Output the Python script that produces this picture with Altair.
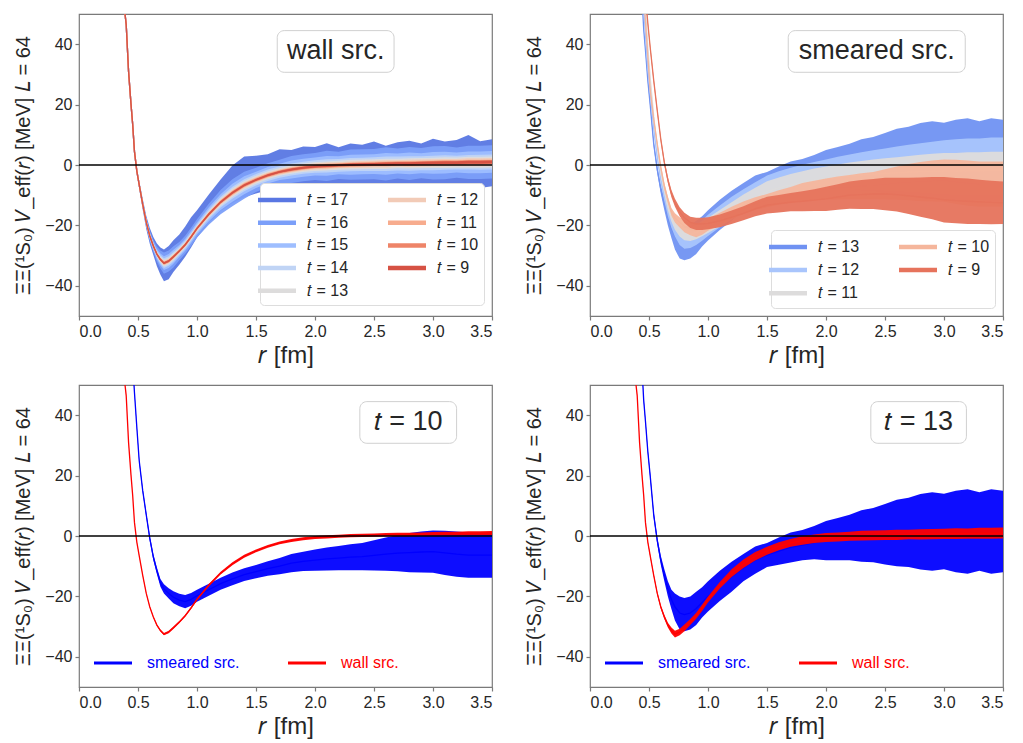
import altair as alt
import pandas as pd

FONT = "Liberation Sans"
IT_T = "\U0001D461"   # italic t
IT_R = "\U0001D45F"   # italic r
IT_V = "\U0001D449"   # italic V
IT_L = "\U0001D43F"   # italic L

# shared r grid (fm)
R = [0.39, 0.40, 0.42, 0.44, 0.455, 0.47, 0.49, 0.51, 0.54, 0.57,
     0.60, 0.63, 0.66, 0.69, 0.72, 0.76, 0.80, 0.85, 0.90, 0.95,
     1.0, 1.1, 1.2, 1.3, 1.4, 1.5, 1.6, 1.7, 1.8, 1.9,
     2.0, 2.1, 2.2, 2.3, 2.4, 2.5, 2.6, 2.7, 2.8, 2.9,
     3.0, 3.1, 3.2, 3.3, 3.4, 3.5]

# wall source potential (central curve)
WALL_V = [50, 46.5, 31, 20.5, 13.4, 4.5, -2, -6.5, -13, -19,
          -23.5, -26.8, -29.5, -31.3, -32.5, -31.8, -30.4, -28.5, -26.4, -23.8,
          -21, -16.3, -12.3, -9.2, -6.7, -4.9, -3.4, -2.3, -1.5, -0.9,
          -0.5, -0.3, -0.1, 0.1, 0.2, 0.3, 0.4, 0.5, 0.5, 0.6,
          0.7, 0.8, 0.8, 0.9, 0.9, 1.0]

# wall source spreads (half widths) for t = 17 ... 9
W17_UP = [0.3, 0.4, 0.5, 0.6, 0.8, 1.0, 1.2, 1.4, 1.8, 2.2,
          2.6, 3.0, 3.5, 4.0, 4.5, 5.0, 5.5, 5.5, 6.0, 6.5,
          6.0, 6.5, 7.5, 9.0, 9.5, 8.0, 7.0, 7.5, 6.5, 7.0,
          6.5, 7.5, 6.0, 7.0, 6.5, 7.5, 6.0, 7.0, 7.5, 6.5,
          8.0, 7.0, 7.5, 9.0, 7.0, 7.5]
W17_DN = [0.3, 0.4, 0.5, 0.6, 0.8, 1.0, 1.2, 1.4, 1.8, 2.2,
          2.6, 3.0, 4.0, 5.0, 6.0, 6.0, 5.0, 4.5, 4.0, 3.5,
          3.0, 3.0, 3.0, 3.5, 4.0, 4.5, 5.0, 5.5, 6.0, 6.5,
          7.0, 7.5, 7.0, 8.0, 7.5, 8.0, 7.5, 8.5, 8.0, 7.5,
          8.5, 8.0, 8.5, 8.0, 8.5, 8.0]
W16_HW = [0.2, 0.3, 0.4, 0.5, 0.6, 0.7, 0.8, 1.0, 1.2, 1.5,
          1.8, 2.0, 2.5, 3.0, 3.5, 3.5, 3.5, 3.0, 3.0, 3.0,
          3.0, 3.5, 4.0, 4.5, 4.5, 4.0, 4.0, 4.0, 4.5, 4.5,
          4.5, 5.0, 4.5, 5.0, 5.0, 5.0, 5.5, 5.0, 5.5, 5.0,
          5.5, 5.5, 5.0, 5.5, 5.5, 5.5]
W15_HW = [0.15, 0.2, 0.3, 0.35, 0.4, 0.5, 0.6, 0.7, 0.8, 1.0,
          1.2, 1.4, 1.7, 2.0, 2.3, 2.3, 2.3, 2.0, 2.0, 2.0,
          2.0, 2.3, 2.6, 3.0, 3.0, 2.7, 2.7, 2.7, 3.0, 3.0,
          3.0, 3.3, 3.0, 3.3, 3.3, 3.3, 3.6, 3.3, 3.6, 3.3,
          3.6, 3.6, 3.3, 3.6, 3.6, 3.6]
W14_HW = [0.1, 0.15, 0.2, 0.25, 0.3, 0.35, 0.4, 0.5, 0.6, 0.7,
          0.8, 1.0, 1.2, 1.4, 1.6, 1.6, 1.6, 1.4, 1.4, 1.4,
          1.4, 1.6, 1.8, 2.0, 2.0, 1.9, 1.9, 1.9, 2.0, 2.0,
          2.1, 2.2, 2.1, 2.2, 2.2, 2.3, 2.4, 2.3, 2.4, 2.3,
          2.4, 2.4, 2.3, 2.4, 2.5, 2.5]
W13_HW = [0.1, 0.1, 0.15, 0.2, 0.2, 0.25, 0.3, 0.35, 0.4, 0.5,
          0.6, 0.7, 0.8, 1.0, 1.1, 1.1, 1.1, 1.0, 1.0, 1.0,
          1.0, 1.1, 1.3, 1.4, 1.4, 1.3, 1.3, 1.3, 1.4, 1.4,
          1.5, 1.5, 1.5, 1.6, 1.6, 1.6, 1.7, 1.6, 1.7, 1.7,
          1.7, 1.8, 1.7, 1.8, 1.8, 1.8]
W12_HW = [0.1, 0.1, 0.1, 0.15, 0.15, 0.2, 0.2, 0.25, 0.3, 0.35,
          0.4, 0.5, 0.6, 0.7, 0.8, 0.8, 0.8, 0.7, 0.7, 0.7,
          0.7, 0.8, 0.9, 1.0, 1.0, 0.9, 0.9, 0.9, 1.0, 1.0,
          1.0, 1.1, 1.0, 1.1, 1.1, 1.1, 1.2, 1.1, 1.2, 1.2,
          1.2, 1.2, 1.2, 1.3, 1.3, 1.3]
W11_HW = [0.1, 0.1, 0.1, 0.1, 0.1, 0.15, 0.15, 0.2, 0.2, 0.25,
          0.3, 0.35, 0.4, 0.5, 0.55, 0.55, 0.55, 0.5, 0.5, 0.5,
          0.5, 0.55, 0.6, 0.7, 0.7, 0.65, 0.65, 0.65, 0.7, 0.7,
          0.7, 0.75, 0.7, 0.75, 0.75, 0.75, 0.8, 0.75, 0.8, 0.8,
          0.8, 0.85, 0.8, 0.85, 0.85, 0.85]
W10_HW = [0.1, 0.1, 0.1, 0.1, 0.1, 0.1, 0.1, 0.15, 0.15, 0.2,
          0.2, 0.25, 0.3, 0.35, 0.4, 0.4, 0.4, 0.35, 0.35, 0.35,
          0.35, 0.4, 0.45, 0.5, 0.5, 0.45, 0.45, 0.45, 0.5, 0.5,
          0.5, 0.55, 0.5, 0.55, 0.55, 0.55, 0.6, 0.55, 0.6, 0.6,
          0.6, 0.6, 0.6, 0.65, 0.65, 0.65]
W9_HW = [0.1, 0.1, 0.1, 0.1, 0.1, 0.1, 0.1, 0.1, 0.1, 0.15,
         0.15, 0.2, 0.2, 0.25, 0.3, 0.3, 0.3, 0.25, 0.25, 0.25,
         0.25, 0.3, 0.3, 0.35, 0.35, 0.3, 0.3, 0.3, 0.35, 0.35,
         0.35, 0.4, 0.35, 0.4, 0.4, 0.4, 0.45, 0.4, 0.45, 0.45,
         0.45, 0.45, 0.45, 0.5, 0.5, 0.5]

# smeared source potentials (central curves, None = above the frame)
SM13_V = [None, None, None, 56, 45, 38, 28, 20, 7, -1.5,
          -8, -13, -17.5, -21, -23.5, -25.5, -26, -25.5, -24, -22,
          -20, -16.5, -13.5, -10.5, -8, -6.3, -5, -3.8, -3, -2.2,
          -1.5, -1.0, -0.5, 0, 0.3, 0.6, 1.0, 1.2, 1.4, 1.5,
          1.5, 1.5, 1.5, 1.5, 1.5, 1.5]
SM13_HW = [0.5, 0.5, 0.5, 0.5, 0.5, 0.6, 0.7, 0.8, 1.0, 1.2,
           1.5, 2.0, 2.5, 3.2, 4.5, 5.5, 5.5, 5.5, 5.5, 5.0,
           5.0, 5.0, 5.0, 4.5, 4.5, 4.0, 4.5, 5.0, 5.0, 5.5,
           6.5, 7.0, 7.5, 8.5, 9.0, 10.0, 11.0, 11.5, 12.5, 13.0,
           12.5, 13.5, 14.0, 13.0, 14.0, 13.5]
SM12_V = [None, None, None, None, 52, 43, 32, 24, 12, 2.5,
          -5, -10.5, -15, -18.5, -21, -23.5, -24.5, -24.3, -23.2, -21.7,
          -20, -17, -14.2, -11.8, -9.5, -7.5, -6.3, -5.3, -4.5, -3.8,
          -3.2, -2.7, -2.3, -2.0, -1.7, -1.5, -1.3, -1.1, -1.0, -0.9,
          -0.8, -0.7, -0.6, -0.6, -0.5, -0.5]
SM12_HW = [0.5, 0.5, 0.5, 0.5, 0.5, 0.5, 0.6, 0.7, 0.8, 1.0,
           1.2, 1.5, 2.0, 2.3, 2.7, 3.0, 3.2, 3.2, 3.3, 3.4,
           3.5, 3.6, 3.7, 3.8, 3.8, 4.0, 4.2, 4.4, 4.6, 4.8,
           5.0, 5.4, 5.8, 6.2, 6.6, 7.0, 7.4, 7.8, 8.2, 8.6,
           9.0, 9.2, 9.4, 9.4, 9.6, 9.6]
SM11_V = [None, None, None, None, None, 52, 39, 29, 16, 6,
          -2.5, -8.5, -13.5, -17, -19.5, -21.7, -22.8, -23, -22.3, -21.2,
          -20, -17.6, -15.2, -12.8, -10.7, -8.8, -7.6, -6.6, -5.8, -5.1,
          -4.5, -4.0, -3.6, -3.3, -3.0, -2.8, -2.6, -2.4, -2.2, -2.1,
          -2.0, -2.0, -1.9, -1.9, -1.8, -1.8]
SM11_HW = [0.5, 0.5, 0.5, 0.5, 0.5, 0.5, 0.5, 0.6, 0.7, 0.8,
           1.0, 1.2, 1.5, 1.7, 1.9, 2.0, 2.1, 2.2, 2.3, 2.4,
           2.5, 2.7, 2.9, 3.0, 3.2, 3.4, 3.5, 3.6, 3.7, 3.9,
           4.0, 4.2, 4.4, 4.6, 4.8, 5.0, 5.2, 5.4, 5.6, 5.8,
           6.0, 6.0, 6.1, 6.1, 6.2, 6.2]
SM10_V = [None, None, None, None, 57, 47.5, 36, 25, 15, 7,
          -0.8, -7, -11.5, -15.5, -17.5, -19, -20.3, -21.2, -21.7, -21,
          -19.8, -17.8, -15.8, -14.2, -12.8, -11.8, -10.8, -10, -9, -8.4,
          -8, -7.6, -7.3, -7, -6.8, -6.4, -6, -5.7, -5.5, -5.3,
          -5.2, -5.6, -6, -6.3, -6.3, -6.3]
SM10_HW = [0.5, 0.5, 0.5, 0.5, 0.5, 0.5, 0.5, 0.6, 0.7, 0.8,
           0.9, 1.0, 1.1, 1.3, 1.5, 1.7, 2.0, 2.1, 2.2, 2.1,
           2.0, 2.0, 2.0, 2.1, 2.1, 2.2, 2.4, 2.7, 3.0, 3.2,
           3.5, 3.8, 4.0, 4.3, 4.5, 5.0, 5.5, 6.0, 6.5, 6.8,
           7.0, 7.3, 7.5, 7.5, 7.5, 7.5]
SM9_V = [None, None, None, None, None, 56, 47, 39, 28, 18,
         8.5, 0.8, -5, -9.5, -12.5, -15.5, -17.5, -19, -19.5, -19.5,
         -19.3, -18.5, -17.3, -16, -14.5, -13.3, -12.8, -12.3, -12, -11.6,
         -11.2, -10.6, -10, -9.8, -9.6, -9.6, -9.8, -10.2, -10.6, -11,
         -11.5, -11.8, -12, -12.2, -12.4, -12.5]
SM9_HW = [0.8, 0.8, 0.8, 0.8, 0.8, 0.8, 0.8, 0.8, 0.8, 0.8,
          0.8, 0.9, 1.0, 1.2, 1.3, 1.5, 1.7, 1.9, 2.0, 2.0,
          2.0, 2.1, 2.2, 2.3, 2.5, 2.8, 2.9, 3.0, 3.3, 3.6,
          4.0, 4.2, 4.5, 4.8, 5.0, 5.4, 5.6, 6.0, 6.5, 7.0,
          7.5, 7.5, 7.5, 7.3, 7.2, 7.0]

# labels and colours
TL_T = [17, 16, 15, 14, 13, 12, 11, 10, 9]
TL_COLORS = ["#5977e3", "#7b9ff9", "#9ebeff", "#c0d4f5", "#dddcdc",
             "#f2cbb7", "#f7ac8e", "#ee8468", "#d65244"]
TR_T = [13, 12, 11, 10, 9]
TR_COLORS = ["#7092f2", "#a9c5fc", "#dddcdc", "#f5b69c", "#e6735c"]
SRC_LABELS = ["smeared src.", "wall src."]
SRC_COLORS = ["#0000ff", "#ff0000"]

BOX_TEXTS = ["wall src.", "smeared src.", IT_T + " = 10", IT_T + " = 13"]
BOX_X = [(1.68, 2.67), (1.68, 3.18), (2.38, 3.20), (2.38, 3.19)]
BOX_Y = (30.7, 44.5)

YT = "ΞΞ(¹S₀) " + IT_V + "_eff(" + IT_R + ") [MeV] " + IT_L + " = 64"
XS = alt.Scale(domain=[0, 3.5], nice=False, zero=False)
YS = alt.Scale(domain=[-50, 50], nice=False)
XA = alt.Axis(title=IT_R + " [fm]", values=[0, 0.5, 1.0, 1.5, 2.0, 2.5, 3.0, 3.5], format=".1f")
YA = alt.Axis(title=YT, values=[-40, -20, 0, 20, 40])
W, H = 413, 302


def tlab(t):
    return IT_T + " = " + str(t)


def series(field, label, v, up, dn, color, scale, legend, lw=1.3, op=0.95):
    rows = []
    for r, c, u, d in zip(R, v, up, dn):
        if c is None:
            continue
        rows.append({"r": r, "v": c, "lo": c - d, "hi": c + u, field: label})
    df = pd.DataFrame(rows)
    x = alt.X("r:Q", scale=XS, axis=XA)
    band = alt.Chart(df).mark_area(clip=True, color=color, opacity=op).encode(
        x=x, y=alt.Y("lo:Q", scale=YS, axis=YA), y2="hi:Q")
    line = alt.Chart(df).mark_line(clip=True, strokeWidth=lw).encode(
        x=x, y=alt.Y("v:Q", scale=YS, axis=YA),
        color=alt.Color(field + ":N", scale=scale, legend=legend))
    return [band, line]


def extras(i):
    zero = alt.Chart(pd.DataFrame({"z": [0]})).mark_rule(color="black", strokeWidth=1.5).encode(
        y=alt.Y("z:Q", scale=YS, axis=YA))
    x0, x1 = BOX_X[i]
    bdf = pd.DataFrame({"x": [x0], "x2": [x1], "y": [BOX_Y[0]], "y2": [BOX_Y[1]],
                        "xm": [(x0 + x1) / 2], "ym": [(BOX_Y[0] + BOX_Y[1]) / 2],
                        "text": [BOX_TEXTS[i]]})
    box = alt.Chart(bdf).mark_rect(fill="white", fillOpacity=0.85, stroke="#d0d0d0",
                                   strokeWidth=1, cornerRadius=7).encode(
        x=alt.X("x:Q", scale=XS, axis=XA), x2="x2", y=alt.Y("y:Q", scale=YS, axis=YA), y2="y2")
    txt = alt.Chart(bdf).mark_text(font=FONT, fontSize=27, color="#262626").encode(
        x=alt.X("xm:Q", scale=XS, axis=XA), y=alt.Y("ym:Q", scale=YS, axis=YA), text="text:N")
    return [zero, box, txt]


STROKE_PATH = "M-2,0H2"


def t_legend(lx, ly, rowpad):
    return alt.Legend(title=None, orient="none", legendX=lx, legendY=ly, columns=2,
                      symbolType=STROKE_PATH, symbolSize=361, symbolStrokeWidth=4.5,
                      symbolOpacity=1, labelFont=FONT, labelFontSize=16, labelColor="#262626",
                      labelOffset=18, rowPadding=rowpad, columnPadding=30, padding=5,
                      strokeColor="#dddddd", fillColor="white", cornerRadius=4)


def src_legend():
    return alt.Legend(title=None, orient="none", legendX=18, legendY=262, columns=2,
                      direction="horizontal",
                      symbolType=STROKE_PATH, symbolSize=361, symbolStrokeWidth=3,
                      symbolOpacity=1, labelFont=FONT, labelFontSize=16,
                      labelColor={"expr": "datum.label == 'wall src.' ? '#ff0000' : '#0000ff'"},
                      labelOffset=23, columnPadding=42, padding=5)


# top-left: wall source, t = 17 ... 9
tl_scale = alt.Scale(domain=[tlab(t) for t in TL_T], range=TL_COLORS)
tl_leg = t_legend(181, 169, 1.7)
TL_SPREADS = [(W17_UP, W17_DN), (W16_HW, W16_HW), (W15_HW, W15_HW), (W14_HW, W14_HW),
              (W13_HW, W13_HW), (W12_HW, W12_HW), (W11_HW, W11_HW), (W10_HW, W10_HW),
              (W9_HW, W9_HW)]
tl_layers = []
for t, c, (u, d) in zip(TL_T, TL_COLORS, TL_SPREADS):
    tl_layers += series("tl", tlab(t), WALL_V, u, d, c, tl_scale, tl_leg)
tl = alt.layer(*tl_layers, *extras(0)).properties(width=W, height=H)

# top-right: smeared source, t = 13 ... 9
tr_scale = alt.Scale(domain=[tlab(t) for t in TR_T], range=TR_COLORS)
tr_leg = t_legend(181, 216, 2.1)
TR_DATA = [(SM13_V, SM13_HW), (SM12_V, SM12_HW), (SM11_V, SM11_HW), (SM10_V, SM10_HW), (SM9_V, SM9_HW)]
tr_layers = []
for t, c, (v, h) in zip(TR_T, TR_COLORS, TR_DATA):
    tr_layers += series("tr", tlab(t), v, h, h, c, tr_scale, tr_leg)
tr = alt.layer(*tr_layers, *extras(1)).properties(width=W, height=H)

# bottom-left: t = 10 comparison
bl_scale = alt.Scale(domain=SRC_LABELS, range=SRC_COLORS)
bl_layers = (series("bl", SRC_LABELS[0], SM10_V, SM10_HW, SM10_HW, SRC_COLORS[0], bl_scale, src_legend())
             + series("bl", SRC_LABELS[1], WALL_V, W10_HW, W10_HW, SRC_COLORS[1], bl_scale, src_legend()))
bl = alt.layer(*bl_layers, *extras(2)).properties(width=W, height=H)

# bottom-right: t = 13 comparison
br_scale = alt.Scale(domain=SRC_LABELS, range=SRC_COLORS)
br_layers = (series("br", SRC_LABELS[0], SM13_V, SM13_HW, SM13_HW, SRC_COLORS[0], br_scale, src_legend())
             + series("br", SRC_LABELS[1], WALL_V, W13_HW, W13_HW, SRC_COLORS[1], br_scale, src_legend()))
br = alt.layer(*br_layers, *extras(3)).properties(width=W, height=H)

top = alt.hconcat(tl, tr, spacing=98, bounds="flush").resolve_scale(color="independent")
bottom = alt.hconcat(bl, br, spacing=98, bounds="flush").resolve_scale(color="independent")
chart = alt.vconcat(top, bottom, spacing=16).resolve_scale(color="independent")

chart = chart.configure_view(stroke="#7a7a7a", strokeWidth=1.2).configure_axis(
    labelFont=FONT, labelFontSize=16, labelColor="#262626", titleFont=FONT,
    titleColor="#262626", titleFontWeight="normal", tickColor="#7a7a7a", tickSize=4,
    tickWidth=1.2, domain=False, grid=False, labelPadding=3
).configure_axisY(titleFontSize=20, titlePadding=11).configure_axisX(titleFontSize=24, titlePadding=4)

chart.save("out.html", embed_options={"renderer": "svg", "actions": False})
